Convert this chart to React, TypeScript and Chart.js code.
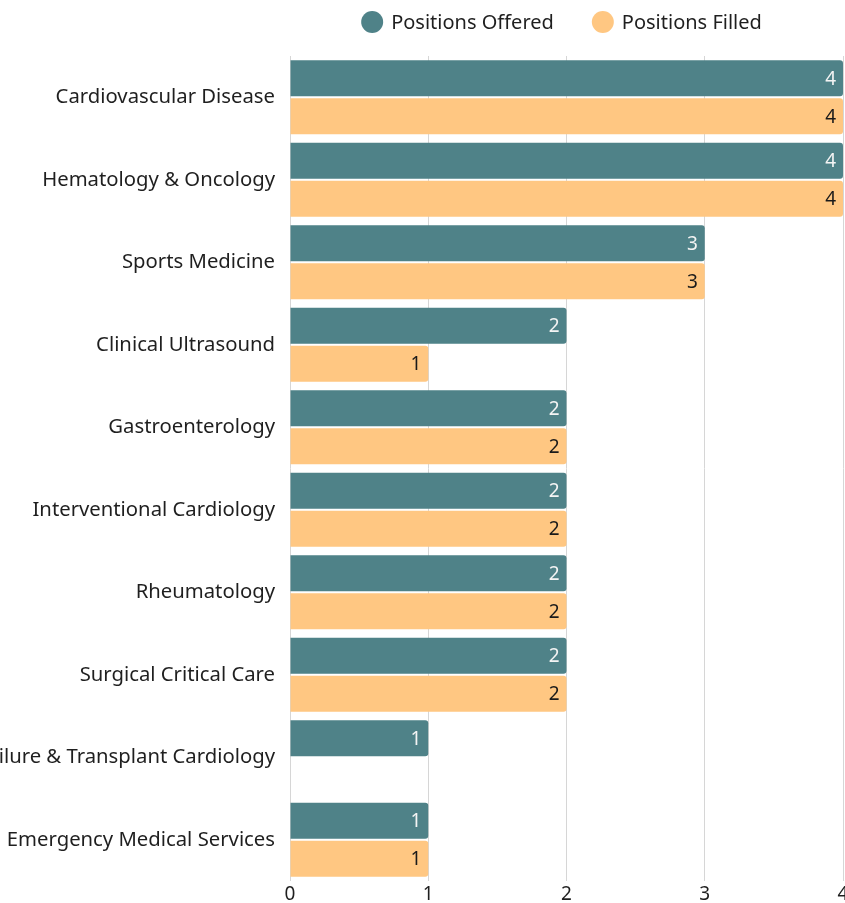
import React, { useEffect, useRef } from "react";
import { Chart, registerables } from "chart.js";

Chart.register(...registerables);

const categories = [
  "Cardiovascular Disease",
  "Hematology & Oncology",
  "Sports Medicine",
  "Clinical Ultrasound",
  "Gastroenterology",
  "Interventional Cardiology",
  "Rheumatology",
  "Surgical Critical Care",
  "Heart Failure & Transplant Cardiology",
  "Emergency Medical Services",
];
const positionsOffered = [4, 4, 3, 2, 2, 2, 2, 2, 1, 1];
const positionsFilled = [4, 4, 3, 1, 2, 2, 2, 2, 0, 1];
const seriesNames = ["Positions Offered", "Positions Filled"];
const seriesColors = ["#4f8288", "#ffc782"];
const valueLabelColors = ["#f4f4f4", "#1a1a1a"];
const xTicks = [0, 1, 2, 3, 4];

const FONT = "'Noto Sans', sans-serif";

const valueLabelPlugin = {
  id: "valueLabels",
  afterDatasetsDraw(chart: any) {
    const ctx = chart.ctx;
    ctx.save();
    ctx.font = `19px ${FONT}`;
    ctx.textAlign = "right";
    ctx.textBaseline = "middle";
    chart.data.datasets.forEach((ds: any, di: number) => {
      const meta = chart.getDatasetMeta(di);
      meta.data.forEach((bar: any, i: number) => {
        const v = ds.data[i];
        if (!v) return;
        ctx.fillStyle = valueLabelColors[di];
        ctx.fillText(String(v), bar.x - 7, bar.y + 1);
      });
    });
    ctx.restore();
  },
};

const customLegendPlugin = {
  id: "customLegend",
  afterDraw(chart: any) {
    const ctx = chart.ctx;
    const area = chart.chartArea;
    ctx.save();
    ctx.font = `20px ${FONT}`;
    ctx.textBaseline = "middle";
    ctx.textAlign = "left";
    const r = 11;
    const gapText = 8;
    const gapItems = 38;
    const widths = seriesNames.map((n) => ctx.measureText(n).width);
    const total =
      widths.reduce((a, b) => a + b, 0) + seriesNames.length * (2 * r + gapText) + gapItems * (seriesNames.length - 1);
    let x = (area.left + area.right) / 2 - 5 - total / 2;
    const y = 22;
    seriesNames.forEach((n, i) => {
      ctx.fillStyle = seriesColors[i];
      ctx.beginPath();
      ctx.arc(x + r, y, r, 0, Math.PI * 2);
      ctx.fill();
      ctx.fillStyle = "#1f1f1f";
      ctx.fillText(n, x + 2 * r + gapText, y + 1);
      x += 2 * r + gapText + widths[i] + gapItems;
    });
    ctx.restore();
  },
};

export default function App() {
  const canvasRef = useRef<HTMLCanvasElement | null>(null);

  useEffect(() => {
    document.body.style.margin = "0";
    document.body.style.overflow = "hidden";
    const canvas = canvasRef.current;
    if (!canvas) return;
    const chart = new Chart(canvas, {
      type: "bar",
      data: {
        labels: categories,
        datasets: [
          {
            label: seriesNames[0],
            data: positionsOffered,
            backgroundColor: seriesColors[0],
            borderRadius: 3,
            borderSkipped: "start",
            categoryPercentage: 0.92,
            barPercentage: 0.947,
          },
          {
            label: seriesNames[1],
            data: positionsFilled,
            backgroundColor: seriesColors[1],
            borderRadius: 3,
            borderSkipped: "start",
            categoryPercentage: 0.92,
            barPercentage: 0.947,
          },
        ],
      },
      options: {
        indexAxis: "y",
        animation: false,
        responsive: false,
        maintainAspectRatio: false,
        devicePixelRatio: 1,
        layout: { padding: { top: 56, left: 0, right: 0, bottom: 0 } },
        plugins: {
          legend: { display: false },
          tooltip: { enabled: false },
        },
        scales: {
          x: {
            type: "linear",
            min: xTicks[0],
            max: xTicks[xTicks.length - 1],
            afterBuildTicks(scale: any) {
              scale.ticks = xTicks.map((v) => ({ value: v }));
            },
            afterFit(scale: any) {
              scale.height = 22;
              scale.paddingLeft = 0;
              scale.paddingRight = 2;
            },
            grid: { color: "#d6d6d6", drawTicks: false, lineWidth: 1 },
            border: { display: false },
            ticks: {
              padding: 2,
              color: "#1f1f1f",
              font: { family: FONT, size: 19 },
            },
          },
          y: {
            afterFit(scale: any) {
              scale.width = 290;
              scale.paddingTop = 0;
              scale.paddingBottom = 0;
            },
            grid: { display: false, drawTicks: false },
            border: { display: false },
            ticks: {
              padding: 15,
              autoSkip: false,
              color: "#1f1f1f",
              font: { family: FONT, size: 20.3 },
            },
          },
        },
      },
      plugins: [valueLabelPlugin, customLegendPlugin],
    });
    return () => chart.destroy();
  }, []);

  return (
    <div style={{ width: 845, height: 903, overflow: "hidden", position: "relative" }}>
      <canvas ref={canvasRef} width={845} height={903} style={{ display: "block", width: 845, height: 903 }} />
    </div>
  );
}
